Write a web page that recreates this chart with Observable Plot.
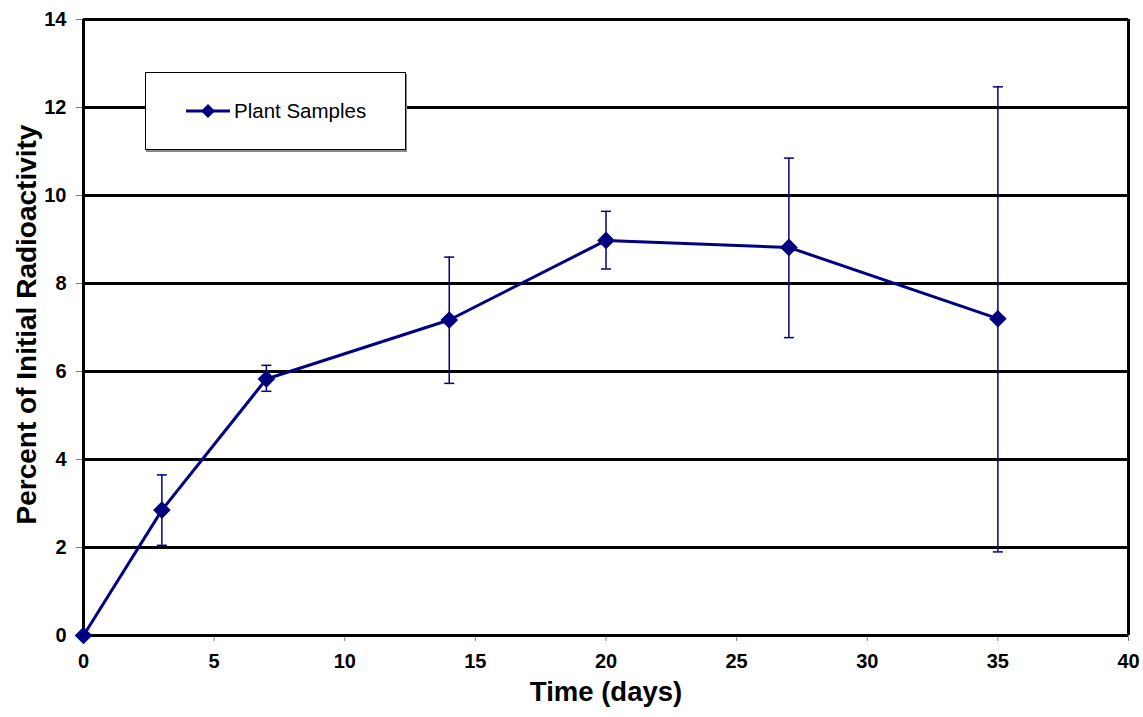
<!DOCTYPE html>
<html>
<head>
<meta charset="utf-8">
<script src="https://cdn.jsdelivr.net/npm/d3@7"></script>
<script src="https://cdn.jsdelivr.net/npm/@observablehq/plot@0.6"></script>
<style>
  html, body { margin: 0; padding: 0; background: #fff; }
  #wrap { position: relative; width: 1143px; height: 717px; font-family: "Liberation Sans", Arial, sans-serif; }
  #legend { position: absolute; left: 145px; top: 72px; width: 259px; height: 76px; background: #fff;
    border: 1px solid #000; box-shadow: 1px 2px 0 #888; display: flex; align-items: center; }
  #legend span { font-size: 20.5px; color: #000; margin-left: 4px; }
  #legend svg { margin-left: 40px; }
</style>
</head>
<body>
<div id="wrap"></div>
<script>
const days = [0, 3, 7, 14, 20, 27, 35];
const percent = [0, 2.85, 5.83, 7.17, 8.98, 8.82, 7.2];
const errLow = [null, 2.05, 5.55, 5.73, 8.33, 6.77, 1.9];
const errHigh = [null, 3.65, 6.14, 8.6, 9.64, 10.85, 12.47];
const xTicks = [0, 5, 10, 15, 20, 25, 30, 35, 40];
const yTicks = [0, 2, 4, 6, 8, 10, 12, 14];
const gridY = [2, 4, 6, 8, 10, 12];
const seriesName = "Plant Samples";
const xTitle = "Time (days)";
const yTitle = "Percent of Initial Radioactivity";

const navy = "#000080";
const data = days.map((d, i) => ({x: d, y: percent[i], lo: errLow[i], hi: errHigh[i]}));
const errs = data.filter(d => d.lo != null);
const capSymbol = { draw(ctx, size) { ctx.moveTo(-5, 0); ctx.lineTo(5, 0); } };

const chart = Plot.plot({
  width: 1143,
  height: 717,
  marginLeft: 83,
  marginRight: 15,
  marginTop: 19,
  marginBottom: 82,
  style: { fontFamily: "'Liberation Sans', Arial, sans-serif", fontSize: "20px", background: "#fff", overflow: "visible" },
  x: { domain: [0, 40] },
  y: { domain: [0, 14] },
  marks: [
    Plot.axisX({ ticks: xTicks, tickSize: 6, stroke: "#808080", tickFormat: () => "", label: null }),
    Plot.axisY({ ticks: yTicks, tickSize: 7, stroke: "#808080", tickFormat: () => "", label: null }),
    Plot.text(xTicks, { x: d => d, frameAnchor: "bottom", dy: 32, text: d => String(d), fontSize: 20, fontWeight: "bold", fill: "#000" }),
    Plot.text(yTicks, { y: d => d, frameAnchor: "left", dx: -17, textAnchor: "end", text: d => String(d), fontSize: 20, fontWeight: "bold", fill: "#000" }),
    Plot.ruleY(gridY, { stroke: "#000", strokeWidth: 3 }),
    Plot.ruleY([0, 14], { stroke: "#000", strokeWidth: 3 }),
    Plot.ruleX([0, 40], { stroke: "#000", strokeWidth: 3 }),
    Plot.ruleX(errs, { x: "x", y1: "lo", y2: "hi", stroke: navy, strokeWidth: 1.5 }),
    Plot.dot(errs, { x: "x", y: "lo", symbol: capSymbol, stroke: navy, strokeWidth: 1.5, fill: "none" }),
    Plot.dot(errs, { x: "x", y: "hi", symbol: capSymbol, stroke: navy, strokeWidth: 1.5, fill: "none" }),
    Plot.line(data, { x: "x", y: "y", stroke: navy, strokeWidth: 3 }),
    Plot.dot(data, { x: "x", y: "y", symbol: "diamond2", r: 7, fill: navy, stroke: navy }),
    Plot.text([xTitle], { frameAnchor: "bottom", text: d => d, dy: 65, fontSize: 27.5, fontWeight: "bold", fill: "#000" }),
    Plot.text([yTitle], { frameAnchor: "left", textAnchor: "middle", text: d => d, rotate: -90, dx: -56, dy: -3, fontSize: 28, fontWeight: "bold", fill: "#000" })
  ]
});

const wrap = document.getElementById("wrap");
wrap.appendChild(chart);
const legend = document.createElement("div");
legend.id = "legend";
legend.innerHTML = `<svg width="44" height="16" viewBox="0 0 44 16"><line x1="0" y1="8" x2="44" y2="8" stroke="${navy}" stroke-width="3"/><path d="M22 1 L29 8 L22 15 L15 8 Z" fill="${navy}"/></svg><span>${seriesName}</span>`;
wrap.appendChild(legend);
</script>
</body>
</html>
